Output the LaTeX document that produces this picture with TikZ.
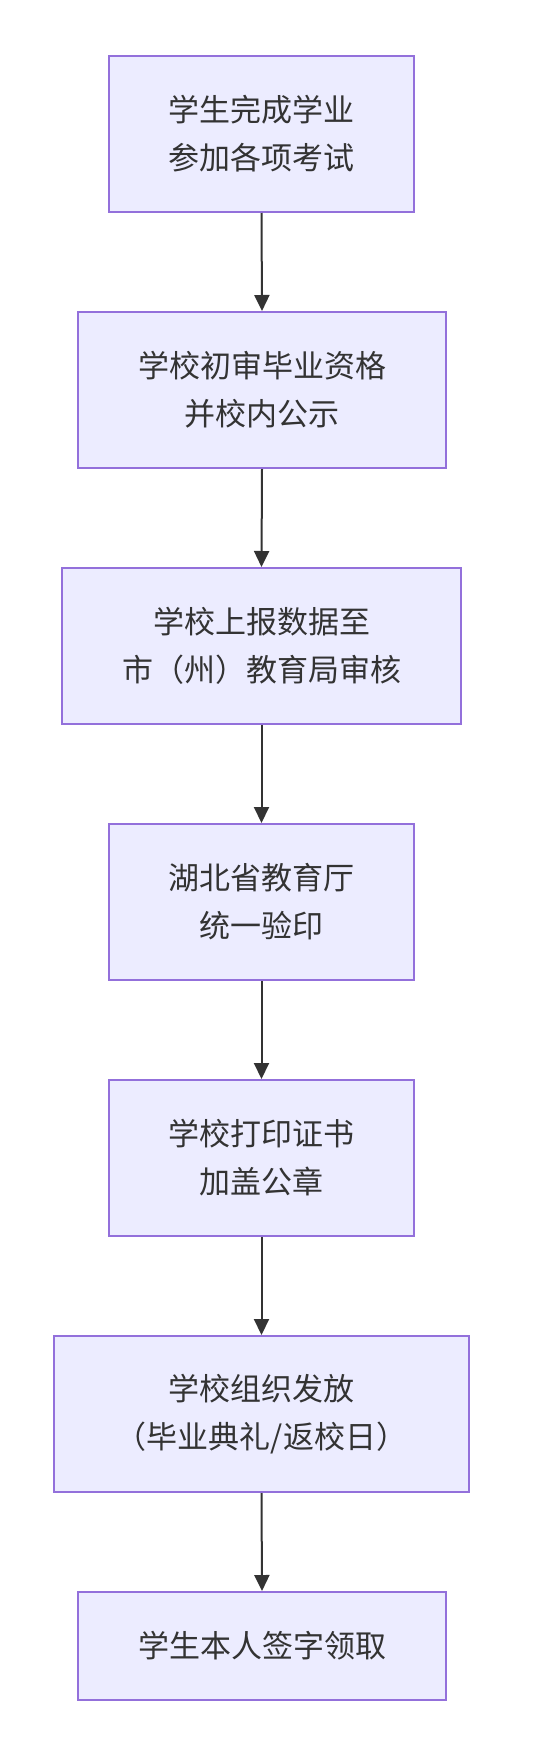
\documentclass[tikz,border=0pt]{standalone}
\usepackage{fontspec}
\setmainfont{Noto Sans CJK SC}
\usetikzlibrary{arrows.meta}
\definecolor{boxfill}{HTML}{ECECFF}
\definecolor{boxline}{HTML}{9370DB}
\definecolor{darkline}{HTML}{333333}
\tikzset{
  stepbox/.style={draw=boxline, fill=boxfill, line width=2pt, inner sep=0pt,
    align=center, text=darkline, font=\fontsize{31}{48}\selectfont},
  flowarrow/.style={draw=darkline, line width=2pt, -{Triangle[length=16pt,width=15pt]}}
}

\begin{document}
\begin{tikzpicture}[x=1pt, y=-1pt]
			%%%%% START %%%%%
			
			\fill[white] (0, 0) rectangle (536, 1756);
			\useasboundingbox (0, 0) rectangle (536, 1756);
			
			\node[stepbox, minimum width=305pt, minimum height=156pt] (finish) at (261.5, 134) {学生完成学业\\参加各项考试};
			\node[stepbox, minimum width=368pt, minimum height=156pt] (review) at (262, 390) {学校初审毕业资格\\并校内公示};
			\node[stepbox, minimum width=399pt, minimum height=156pt] (report) at (261.5, 646) {学校上报数据至\\市（州）教育局审核};
			\node[stepbox, minimum width=305pt, minimum height=156pt] (stamp) at (261.5, 902) {湖北省教育厅\\统一验印};
			\node[stepbox, minimum width=305pt, minimum height=156pt] (print) at (261.5, 1158) {学校打印证书\\加盖公章};
			\node[stepbox, minimum width=415pt, minimum height=156pt] (issue) at (261.5, 1414) {学校组织发放\\（毕业典礼/返校日）};
			\node[stepbox, minimum width=368pt, minimum height=108pt] (collect) at (262, 1646) {学生本人签字领取};
			
			\draw[flowarrow] (finish.south) -- (review.north);
			\draw[flowarrow] (review.south) -- (report.north);
			\draw[flowarrow] (report.south) -- (stamp.north);
			\draw[flowarrow] (stamp.south) -- (print.north);
			\draw[flowarrow] (print.south) -- (issue.north);
			\draw[flowarrow] (issue.south) -- (collect.north);
			
			%%%%% END %%%%%
		\end{tikzpicture}
\end{document}
